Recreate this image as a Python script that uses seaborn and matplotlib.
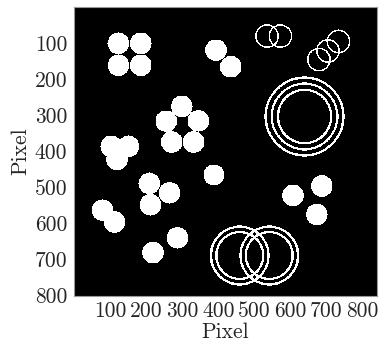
import numpy as np
import matplotlib
matplotlib.use("Agg")
import matplotlib.pyplot as plt
import seaborn as sns

# image size (columns x rows)
img_w, img_h = 840, 800

# filled discs: centre x, centre y, radius (pixel units)
disc_x = [122, 184, 122, 184, 393, 434,
          298, 255, 344, 270, 331,
          102, 150, 118, 387,
          208, 264, 211, 78, 111, 286, 218,
          607, 687, 673]
disc_y = [99, 99, 160, 160, 118, 164,
          274, 315, 314, 373, 373,
          385, 385, 421, 464,
          488, 514, 547, 562, 595, 639, 680,
          521, 495, 574]
disc_r = [30, 30, 30, 30, 30, 30,
          30, 30, 30, 30, 30,
          30, 30, 30, 29,
          30, 30, 30, 30, 30, 30, 30,
          30, 30, 30]

# rings: centre x, centre y, radius, line width
ring_x = [535, 572, 679, 704, 733,
          639, 639, 639,
          459, 459, 541, 541]
ring_y = [79, 79, 144, 120, 94,
          302, 302, 302,
          688, 688, 688, 688]
ring_r = [31, 31, 31, 31, 31,
          108, 91, 74,
          80, 65, 80, 65]
ring_w = [4, 4, 4, 4, 4,
          6.5, 6.5, 6.5,
          6.5, 6.5, 6.5, 6.5]

tick_vals = [100, 200, 300, 400, 500, 600, 700, 800]

yy, xx = np.mgrid[0:img_h, 0:img_w]
img = np.zeros((img_h, img_w))
for cx, cy, r in zip(disc_x, disc_y, disc_r):
    img[(xx - cx) ** 2 + (yy - cy) ** 2 <= r ** 2] = 1
for cx, cy, r, w in zip(ring_x, ring_y, ring_r, ring_w):
    d = np.sqrt((xx - cx) ** 2 + (yy - cy) ** 2)
    img[np.abs(d - r) <= w / 2] = 1

sns.set_theme(style="white")
plt.rcParams["font.family"] = ["cmr10", "DejaVu Serif"]
plt.rcParams["axes.formatter.use_mathtext"] = True

fig = plt.figure(figsize=(3.86, 3.42), dpi=100)
ax = fig.add_axes([0.1925, 0.1354, 0.7835, 0.8427])
sns.heatmap(img, cmap="gray", vmin=0, vmax=1, cbar=False, ax=ax,
            xticklabels=False, yticklabels=False, rasterized=True)
ax.set_xticks(tick_vals)
ax.set_xticklabels([str(v) for v in tick_vals])
ax.set_yticks(tick_vals)
ax.set_yticklabels([str(v) for v in tick_vals], rotation=0)
ax.tick_params(axis="x", length=0, labelsize=15.5, pad=4)
ax.tick_params(axis="y", length=0, labelsize=15.5, pad=5)
ax.set_xlabel("Pixel", fontsize=15.5, labelpad=1)
ax.set_ylabel("Pixel", fontsize=15.5, labelpad=3)
for s in ax.spines.values():
    s.set_visible(True)
    s.set_color("#999999")
    s.set_linewidth(0.8)

fig.savefig("out.png", dpi=100)
